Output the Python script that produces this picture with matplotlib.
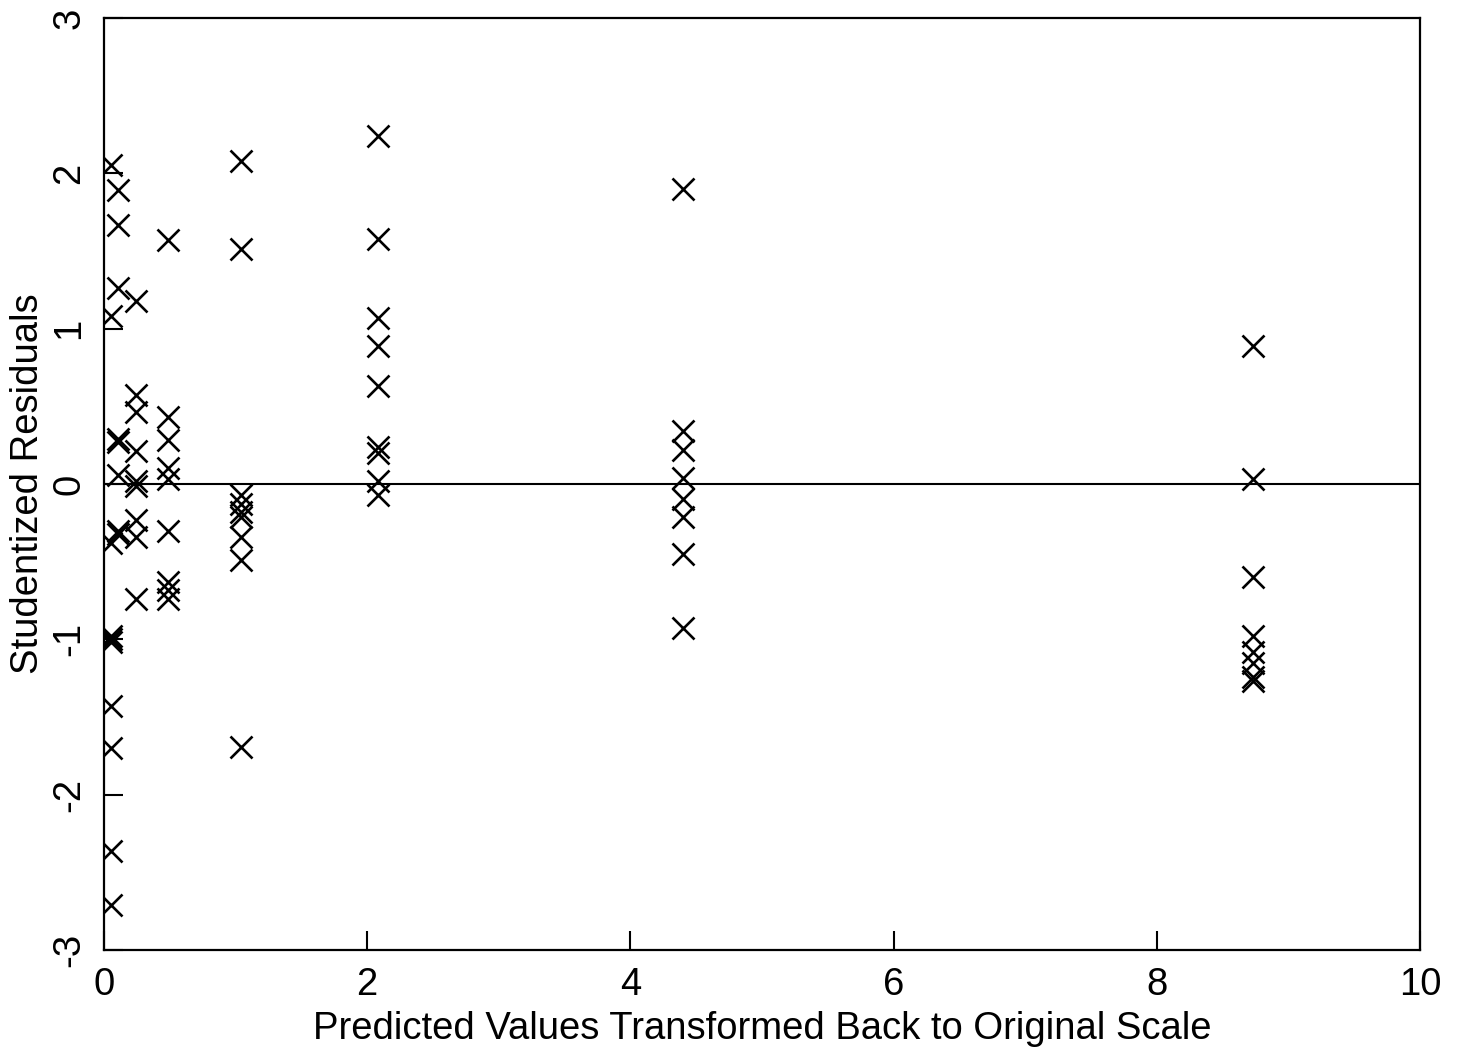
"""Studentized residuals against back-transformed predicted values."""

import matplotlib

matplotlib.use("Agg")
import matplotlib.pyplot as plt
import numpy as np

plt.rcParams["font.family"] = ["Liberation Sans", "DejaVu Sans"]

# predicted value levels (original scale) and the residuals observed at each
PREDICTED = [0.053, 0.11, 0.24, 0.49, 1.04, 2.08, 4.40, 8.73]
RESIDUALS = [
    [2.05, 1.08, -0.38, -0.98, -1.00, -1.02, -1.43, -1.70, -2.36, -2.71],
    [1.89, 1.67, 1.26, 0.27, 0.29, 0.06, -0.30, -0.32],
    [1.18, 0.57, 0.46, 0.21, 0.02, -0.01, -0.23, -0.34, -0.74],
    [1.57, 0.43, 0.28, 0.10, 0.03, -0.30, -0.63, -0.68, -0.74],
    [2.08, 1.51, -0.07, -0.13, -0.18, -0.21, -0.34, -0.49, -1.69],
    [2.24, 1.58, 1.07, 0.89, 0.63, 0.24, 0.20, 0.02, -0.07],
    [1.90, 0.34, 0.22, 0.04, -0.10, -0.21, -0.45, -0.93],
    [0.89, 0.03, -0.60, -0.98, -1.08, -1.15, -1.24, -1.27],
]

X_TICKS = [0, 2, 4, 6, 8, 10]
Y_TICKS = [-3, -2, -1, 0, 1, 2, 3]


def main() -> None:
    x = np.concatenate([[p] * len(r) for p, r in zip(PREDICTED, RESIDUALS)])
    y = np.concatenate([np.array(r) for r in RESIDUALS])

    fig = plt.figure(figsize=(14.6, 10.53), dpi=100)
    ax = fig.add_axes([0.0712, 0.0978, 0.9014, 0.8852])

    ax.axhline(0, color="black", linewidth=1.5, zorder=1)
    ax.plot(x, y, linestyle="none", marker="x", markersize=15.5,
            markeredgewidth=1.9, color="black", zorder=2)

    ax.set_xlim(0, 10)
    ax.set_ylim(-3, 3)
    ax.set_xticks(X_TICKS)
    ax.set_yticks(Y_TICKS)
    ax.set_yticklabels([str(v) for v in Y_TICKS], rotation=90, va="center")

    ax.tick_params(direction="in", length=14, width=1.5, labelsize=27.5,
                   top=False, right=False, pad=12)
    for spine in ax.spines.values():
        spine.set_linewidth(1.6)

    ax.set_xlabel("Predicted Values Transformed Back to Original Scale",
                  fontsize=27.5, labelpad=6)
    ax.set_ylabel("Studentized Residuals", fontsize=27.5, labelpad=4)

    fig.savefig("out.png", dpi=100)
    plt.close(fig)


if __name__ == "__main__":
    main()
